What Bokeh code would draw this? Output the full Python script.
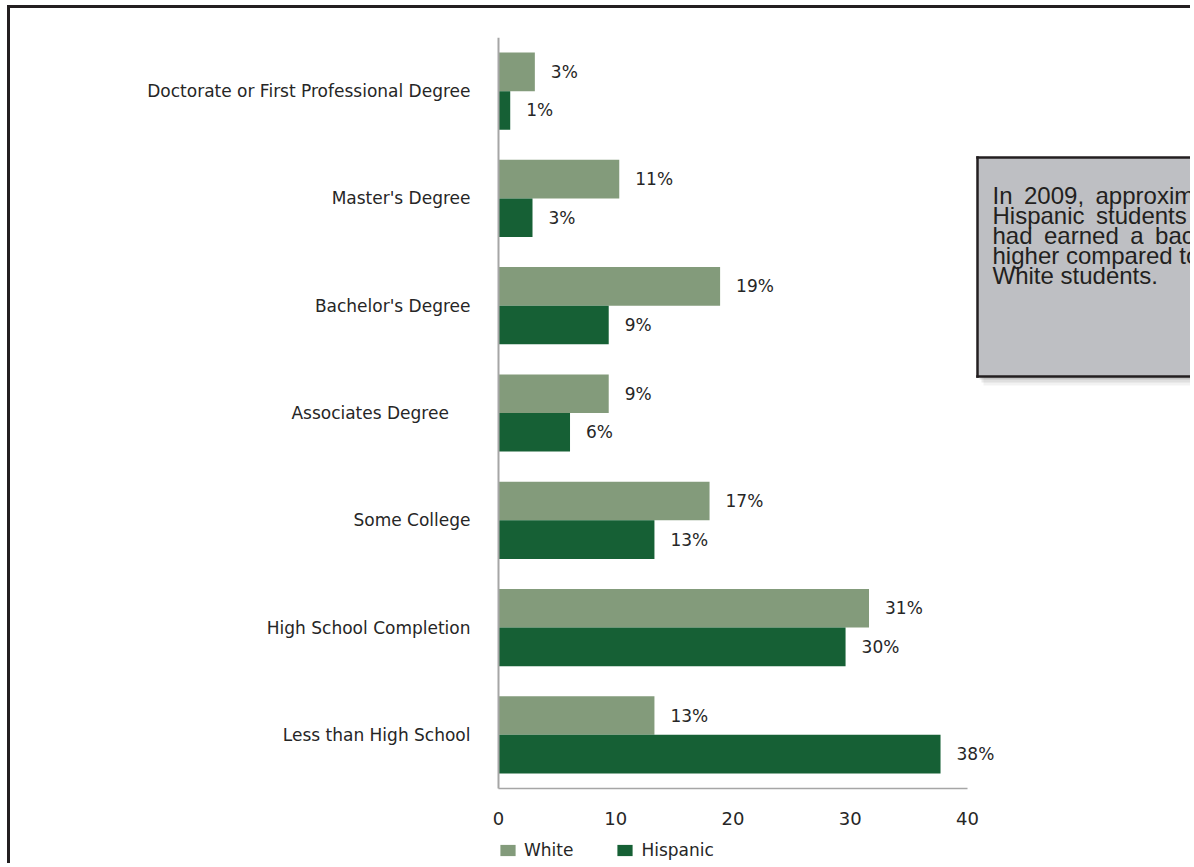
from bokeh.plotting import figure
from bokeh.models import (Range1d, ColumnDataSource, Legend, LegendItem,
                          BoxAnnotation, Label, FixedTicker, LinearAxis)
from bokeh.core.properties import value
from bokeh.embed import file_html
from bokeh.resources import INLINE

# ---------------- data ----------------
categories = ["Doctorate or First Professional Degree", "Master's Degree", "Bachelor's Degree",
              "Associates Degree    ", "Some College", "High School Completion", "Less than High School"]
white = [3.1, 10.3, 18.9, 9.4, 18.0, 31.6, 13.3]
hispanic = [1.0, 2.9, 9.4, 6.1, 13.3, 29.6, 37.7]
white_labels = ["3%", "11%", "19%", "9%", "17%", "31%", "13%"]
hispanic_labels = ["1%", "3%", "9%", "6%", "13%", "30%", "38%"]
series = ["White", "Hispanic"]
x_ticks = [0, 10, 20, 30, 40]
note_lines = ["In 2009, approximately 13% of",
              "Hispanic students ages 25 or older",
              "had earned a bachelor's degree or",
              "higher compared to 33% of",
              "White students."]

# ---------------- styling / layout ----------------
C_WHITE = "#839b7b"
C_HISP = "#166035"
TXT = "#262626"
DARK = "#231f20"
AXIS = "#a6a6a6"
FONT = "DejaVu Sans"

CANVAS_X, CANVAS_Y = 10, 8       # where the canvas sits on the page
W, H = 1183, 858                 # canvas
BL, BT = 480, 29                 # frame left / top inside canvas
XPAD = 8                         # px of frame left of the value 0
PLOT_H = 751                     # height of the category area
EXTRA = H - BT - PLOT_H          # room under the category area (ticks + legend)
n = len(categories)
unit_px = PLOT_H / n
px_per_unit = 469 / 40.0
x_start = -XPAD / px_per_unit
x_end = x_start + (W - BL) / px_per_unit
OFF, BAR_H = 0.18, 0.36
FRAME_LEFT_PAGE = CANVAS_X + BL
FRAME_BOTTOM_PAGE = CANVAS_Y + H

pos = [n - 0.5 - i for i in range(n)]          # category centres, first at top
src = ColumnDataSource(dict(
    white=white, hispanic=hispanic, wl=white_labels, hl=hispanic_labels,
    yw=[c + OFF for c in pos], yh=[c - OFF for c in pos]))

p = figure(width=W, height=H,
           y_range=Range1d(-EXTRA / unit_px, n), x_range=Range1d(x_start, x_end),
           output_backend="svg", toolbar_location=None,
           min_border_left=BL, min_border_top=BT, min_border_bottom=0, min_border_right=0,
           background_fill_color="white", border_fill_color="white")
p.styles = {"border-left": "3px solid " + DARK, "border-top": "3px solid " + DARK,
            "margin-top": "5px", "margin-left": "7px"}
p.outline_line_color = None
p.grid.visible = False

rw = p.hbar(y="yw", left=0, right="white", height=BAR_H, source=src,
            fill_color=C_WHITE, line_color=None)
rh = p.hbar(y="yh", left=0, right="hispanic", height=BAR_H, source=src,
            fill_color=C_HISP, line_color=None)
for xcol, ycol, tcol in (("white", "yw", "wl"), ("hispanic", "yh", "hl")):
    p.text(x=xcol, y=ycol, text=tcol, source=src, x_offset=16,
           text_align="left", text_baseline="middle",
           text_font=value(FONT), text_font_size="17px", text_color=TXT)

# x axis: drawn at value 0 of the category scale, labels inside the frame
p.xaxis.ticker = FixedTicker(ticks=x_ticks)
p.xaxis.bounds = (0, 40)
p.xaxis.fixed_location = 0
p.xaxis.axis_line_width = 1.5
p.xaxis.major_label_standoff = 23
p.xaxis.major_label_text_font_size = "18px"

# y axis: category labels in the left panel
p.yaxis.ticker = FixedTicker(ticks=pos)
p.yaxis.major_label_overrides = {c: name for c, name in zip(pos, categories)}
p.yaxis.axis_line_color = None
p.yaxis.major_label_standoff = 28 - XPAD
p.yaxis.major_label_text_font_size = "17px"

# y axis line at value 0, spanning only the categories
yline = LinearAxis(fixed_location=0, bounds=(0, n), ticker=FixedTicker(ticks=[]),
                   axis_line_color=AXIS, axis_line_width=2,
                   major_label_text_alpha=0, major_tick_line_color=None,
                   minor_tick_line_color=None)
p.add_layout(yline, "left")

for ax in (p.xaxis, p.yaxis):
    ax.major_tick_line_color = None
    ax.minor_tick_line_color = None
    ax.major_tick_out = 0
    ax.major_tick_in = 0
    ax.major_label_text_font = FONT
    ax.major_label_text_color = TXT
p.xaxis.axis_line_color = AXIS

# legend under the axis (screen offsets from frame bottom-left)
legend = Legend(items=[LegendItem(label=series[0], renderers=[rw]),
                       LegendItem(label=series[1], renderers=[rh])],
                orientation="horizontal", location=(498 - FRAME_LEFT_PAGE, 6),
                margin=0, padding=2, spacing=42, label_height=20,
                glyph_width=19, glyph_height=14, label_standoff=7,
                border_line_color=None, background_fill_alpha=0,
                label_text_font=FONT, label_text_font_size="17px", label_text_color=TXT)
p.add_layout(legend, "center")

# annotation box: page-pixel positions converted to frame screen units (y up)
def up(page_y):
    return FRAME_BOTTOM_PAGE - page_y

def right_of(page_x):
    return page_x - FRAME_LEFT_PAGE

def sbox(left, right, top, bottom, color, alpha):
    return BoxAnnotation(left=left, right=right, top=top, bottom=bottom,
                         left_units="screen", right_units="screen",
                         top_units="screen", bottom_units="screen",
                         fill_color=color, fill_alpha=alpha, line_color=None, line_alpha=0)

FAR = W
BX, BTOP, BBOT, LW = right_of(977), up(157), up(376), 2.5
for dx, dy, a in ((6, -9, 0.05), (4, -6, 0.08), (2, -3, 0.12)):
    p.add_layout(sbox(BX + dx, FAR, BTOP + dy, BBOT + dy, "black", a))
p.add_layout(sbox(BX, FAR, BTOP, BBOT, "#bebfc3", 1))
p.add_layout(sbox(BX - LW / 2, FAR, BTOP + LW / 2, BTOP - LW / 2, DARK, 1))   # top edge
p.add_layout(sbox(BX - LW / 2, FAR, BBOT + LW / 2, BBOT - LW / 2, DARK, 1))   # bottom edge
p.add_layout(sbox(BX - LW / 2, BX + LW / 2, BTOP + LW / 2, BBOT - LW / 2, DARK, 1))  # left edge

note = "\n".join(line.replace(" ", " \u2009") if i < 3 else line
                 for i, line in enumerate(note_lines))
p.add_layout(Label(x=right_of(992), y=up(181.5), x_units="screen", y_units="screen",
                   text=note, text_font="Liberation Sans",
                   text_font_size="24px", text_color=DARK,
                   text_baseline="top", text_align="left", text_line_height=0.74))

open("out.html", "w").write(file_html(p, INLINE))
